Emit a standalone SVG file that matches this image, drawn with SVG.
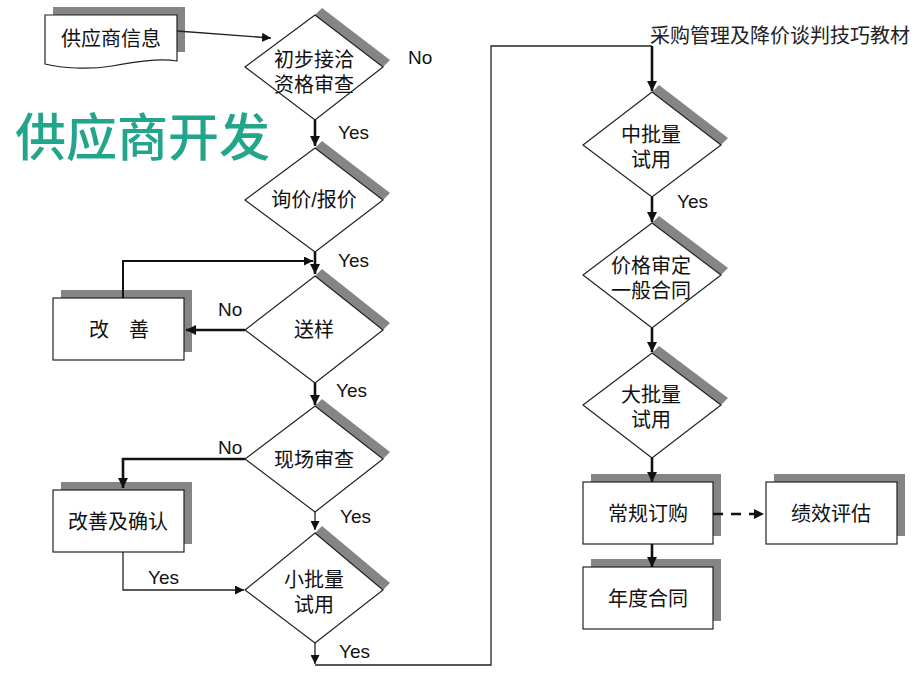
<svg xmlns="http://www.w3.org/2000/svg" width="920" height="690" viewBox="0 0 920 690">
<defs>
<style>
.shape{fill:#fff;stroke:#222;stroke-width:1.2}
.shadow{fill:#858585}
.lbl{font-family:"Liberation Sans","Noto Sans CJK SC",sans-serif;font-size:20px;fill:#111;text-anchor:middle}
.yn{font-family:"Liberation Sans",Arial,sans-serif;font-size:19px;fill:#111}
.thin{fill:none;stroke:#222;stroke-width:1.3}
.bold{fill:none;stroke:#111;stroke-width:2.6}
</style>
<marker id="ah" viewBox="0 0 10 10" refX="10" refY="5" markerWidth="9" markerHeight="9" markerUnits="userSpaceOnUse" orient="auto">
<path d="M0,0 L10,5 L0,10 Z" fill="#111"/>
</marker>
<marker id="ahb" viewBox="0 0 10 10" refX="10" refY="5" markerWidth="10" markerHeight="10" markerUnits="userSpaceOnUse" orient="auto">
<path d="M0,0 L10,5 L0,10 Z" fill="#111"/>
</marker>
</defs>
<rect width="920" height="690" fill="#fff"/>

<text x="15" y="156" font-family="'Noto Sans CJK SC',sans-serif" font-size="51" font-weight="500" fill="#22a58a">供应商开发</text>
<text x="650" y="43" font-family="'Liberation Serif','Noto Sans CJK SC',serif" font-size="20" fill="#222">采购管理及降价谈判技巧教材</text>

<g id="supplier-info">
<path class="shadow" d="M53,7 H185 V52 H177 V15 H53 Z"/>
<path class="shape" d="M45,15 H177 V61 C158,58 135,62 112,66 C88,70 62,68 45,64 Z"/>
<text class="lbl" x="111" y="46">供应商信息</text>
</g>

<g id="d1">
<path class="shadow" d="M315,15 L322,8 L390,60 L383,67 Z"/>
<path class="shape" d="M315,15 L383,67 L315,120 L245,67 Z"/>
<text class="lbl" x="314" y="67">初步接洽</text>
<text class="lbl" x="314" y="92">资格审查</text>
</g>

<g id="d2">
<path class="shadow" d="M315,148 L322,141 L390,193 L383,200 Z"/>
<path class="shape" d="M315,148 L383,200 L315,252 L245,200 Z"/>
<text class="lbl" x="314" y="207">询价/报价</text>
</g>

<g id="d3">
<path class="shadow" d="M315,276 L322,269 L390,323 L383,330 Z"/>
<path class="shape" d="M315,276 L383,330 L315,383 L245,330 Z"/>
<text class="lbl" x="314" y="337">送样</text>
</g>

<g id="improve">
<rect class="shadow" x="61" y="290" width="131" height="62"/>
<rect class="shape" x="53" y="298" width="131" height="62"/>
<text class="lbl" x="99" y="337">改</text>
<text class="lbl" x="139" y="337">善</text>
</g>

<g id="d4">
<path class="shadow" d="M315,406 L322,399 L390,452 L383,459 Z"/>
<path class="shape" d="M315,406 L383,459 L315,512 L245,459 Z"/>
<text class="lbl" x="314" y="467">现场审查</text>
</g>

<g id="improve-confirm">
<rect class="shadow" x="61" y="482" width="131" height="62"/>
<rect class="shape" x="53" y="490" width="131" height="62"/>
<text class="lbl" x="118" y="529">改善及确认</text>
</g>

<g id="d5">
<path class="shadow" d="M315,533 L322,526 L390,583 L383,590 Z"/>
<path class="shape" d="M315,533 L383,590 L315,643 L245,590 Z"/>
<text class="lbl" x="314" y="587">小批量</text>
<text class="lbl" x="314" y="612">试用</text>
</g>

<g id="d6">
<path class="shadow" d="M652,92 L659,85 L728,138 L721,145 Z"/>
<path class="shape" d="M652,92 L721,145 L652,197 L583,145 Z"/>
<text class="lbl" x="651" y="142">中批量</text>
<text class="lbl" x="651" y="167">试用</text>
</g>

<g id="d7">
<path class="shadow" d="M652,223 L659,216 L728,268 L721,275 Z"/>
<path class="shape" d="M652,223 L721,275 L652,328 L583,275 Z"/>
<text class="lbl" x="651" y="273">价格审定</text>
<text class="lbl" x="651" y="298">一般合同</text>
</g>

<g id="d8">
<path class="shadow" d="M652,353 L659,346 L728,398 L721,405 Z"/>
<path class="shape" d="M652,353 L721,405 L652,458 L583,405 Z"/>
<text class="lbl" x="651" y="402">大批量</text>
<text class="lbl" x="651" y="427">试用</text>
</g>

<g id="regular-order">
<rect class="shadow" x="591" y="474" width="130" height="62"/>
<rect class="shape" x="583" y="482" width="130" height="62"/>
<text class="lbl" x="648" y="521">常规订购</text>
</g>

<g id="perf-eval">
<rect class="shadow" x="774" y="474" width="131" height="62"/>
<rect class="shape" x="766" y="482" width="131" height="62"/>
<text class="lbl" x="831" y="521">绩效评估</text>
</g>

<g id="annual-contract">
<rect class="shadow" x="591" y="559" width="130" height="62"/>
<rect class="shape" x="583" y="567" width="130" height="62"/>
<text class="lbl" x="648" y="606">年度合同</text>
</g>

<g id="connectors">
<line class="thin" x1="177" y1="31" x2="271" y2="38" marker-end="url(#ah)"/>
<line class="bold" x1="315" y1="120" x2="315" y2="146" marker-end="url(#ahb)"/>
<line class="bold" x1="315" y1="252" x2="315" y2="274" marker-end="url(#ahb)"/>
<polyline class="bold" points="123,298 123,261 313,261" marker-end="url(#ah)" style="stroke-width:2"/>
<line class="bold" x1="245" y1="330" x2="186" y2="330" marker-end="url(#ahb)"/>
<line class="bold" x1="315" y1="383" x2="315" y2="405" marker-end="url(#ahb)"/>
<polyline class="bold" points="245,459 123,459 123,488" marker-end="url(#ahb)"/>
<line class="thin" x1="315" y1="512" x2="315" y2="530" marker-end="url(#ah)"/>
<polyline class="thin" points="123,552 123,590 244,590" marker-end="url(#ah)"/>
<line class="thin" x1="315" y1="643" x2="315" y2="664" marker-end="url(#ah)"/>
<polyline class="thin" points="315,665 491,665 491,46 652,46"/>
<line class="bold" x1="652" y1="46" x2="652" y2="91" marker-end="url(#ahb)"/>
<line class="bold" x1="652" y1="197" x2="652" y2="222" marker-end="url(#ahb)"/>
<line class="bold" x1="652" y1="328" x2="652" y2="352" marker-end="url(#ahb)"/>
<line class="bold" x1="652" y1="458" x2="652" y2="482" marker-end="url(#ahb)"/>
<line class="bold" x1="652" y1="544" x2="652" y2="567" marker-end="url(#ahb)"/>
<line class="bold" x1="713" y1="514" x2="764" y2="514" stroke-dasharray="10,8" marker-end="url(#ahb)"/>
<text class="yn" x="408" y="64">No</text>
<text class="yn" x="338" y="139">Yes</text>
<text class="yn" x="338" y="267">Yes</text>
<text class="yn" x="218" y="316">No</text>
<text class="yn" x="336" y="397">Yes</text>
<text class="yn" x="218" y="454">No</text>
<text class="yn" x="340" y="523">Yes</text>
<text class="yn" x="148" y="584">Yes</text>
<text class="yn" x="339" y="658">Yes</text>
<text class="yn" x="677" y="208">Yes</text>
</g>
</svg>
